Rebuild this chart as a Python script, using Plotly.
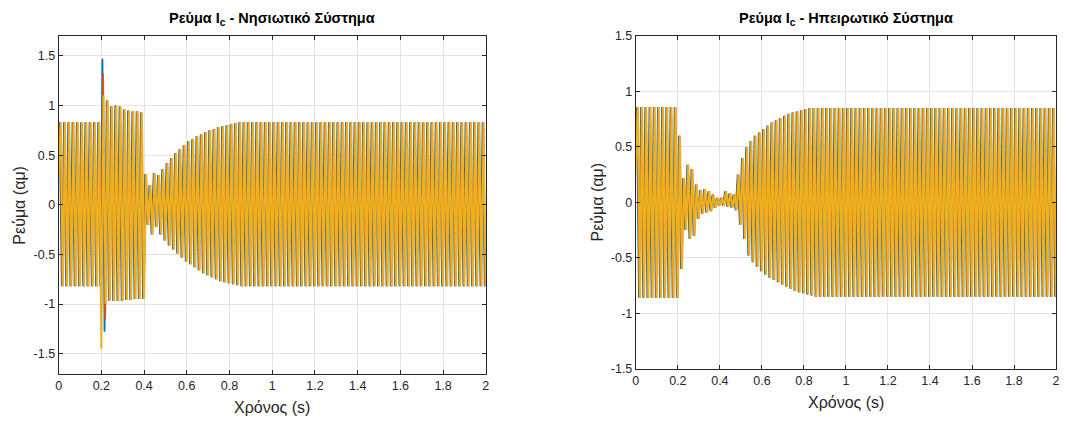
import plotly.graph_objects as go

# ---------------- data ----------------
# 50 Hz signals, 100 cycles over 0..2 s; per-cycle positive / negative peak values
cycle_start = [round(0.02 * k, 2) for k in range(100)]

# Left panel: "Νησιωτικό Σύστημα"
L_upper = [0.83] * 10 + [1.10, 1.05, 0.99, 1.00, 0.99, 0.96, 0.95, 0.94, 0.94, 0.93] + \
          [0.31, 0.20, 0.32, 0.30, 0.36, 0.42, 0.47, 0.52, 0.56, 0.60, 0.64,
           0.66, 0.69, 0.71, 0.73, 0.75, 0.76, 0.78, 0.79, 0.80, 0.81, 0.82] + [0.83] * 58
L_lower = [-0.82] * 10 + [-1.00, -0.97, -0.97, -0.97, -0.97, -0.96, -0.96, -0.95, -0.95, -0.95] + \
          [-0.20, -0.30, -0.22, -0.30, -0.36, -0.41, -0.45, -0.49, -0.53, -0.57, -0.60,
           -0.63, -0.66, -0.69, -0.71, -0.73, -0.75, -0.77, -0.78, -0.79, -0.80, -0.81] + [-0.82] * 58
# fault spike peaks per series (cycle index -> value)
L_spike_upper = [{10: 1.47}, {10: 1.32}, {}]
L_spike_lower = [{10: -1.28}, {10: -1.15}, {9: -1.45}]

# Right panel: "Ηπειρωτικό Σύστημα"
R_upper = [0.86] * 10 + [0.60, 0.22, 0.34, 0.30, 0.16, 0.11, 0.12, 0.10, 0.07, 0.04, 0.04,
                         0.10, 0.08, 0.07, 0.25, 0.40, 0.50, 0.55, 0.60, 0.63, 0.66, 0.69,
                         0.72, 0.74, 0.76, 0.78, 0.80, 0.81, 0.82, 0.83, 0.84, 0.85] + [0.85] * 58
R_lower = [-0.86] * 10 + [-0.60, -0.25, -0.33, -0.30, -0.15, -0.10, -0.09, -0.08, -0.05, -0.03, -0.03,
                          -0.04, -0.05, -0.07, -0.20, -0.33, -0.48, -0.54, -0.58, -0.62, -0.65, -0.68,
                          -0.70, -0.72, -0.74, -0.76, -0.78, -0.80, -0.81, -0.82, -0.83, -0.84] + [-0.85] * 58
R_spike_upper = [{}, {}, {}]
R_spike_lower = [{}, {}, {}]

series_offset = [0.0, 0.003, 0.005]       # time shift of each series (s)
series_start = [0.6, 0.45, 0.3]            # value at t = 0
series_colors = ["#0072BD", "#D95319", "#EDB120"]
series_widths = [1.8, 1.8, 2.0]

x_ticks = [0, 0.2, 0.4, 0.6, 0.8, 1, 1.2, 1.4, 1.6, 1.8, 2]
x_ticktext = ["0", "0.2", "0.4", "0.6", "0.8", "1", "1.2", "1.4", "1.6", "1.8", "2"]
y_ticks = [-1.5, -1, -0.5, 0, 0.5, 1, 1.5]
y_ticktext = ["-1.5", "-1", "-0.5", "0", "0.5", "1", "1.5"]

titles = ["Ρεύμα I<sub>c</sub> - Νησιωτικό Σύστημα", "Ρεύμα I<sub>c</sub> - Ηπειρωτικό Σύστημα"]
x_title = "Χρόνος (s)"
y_title = "Ρεύμα (αμ)"


def build(upper, lower, offset, start, up_over, lo_over):
    xs, ys = [0.0], [start]
    for k, t0 in enumerate(cycle_start):
        xs += [t0 + offset + 0.005, t0 + offset + 0.015]
        ys += [up_over.get(k, upper[k]), lo_over.get(k, lower[k])]
    return xs, ys


fig = go.Figure()
panels = [("x", "y", L_upper, L_lower, L_spike_upper, L_spike_lower),
          ("x2", "y2", R_upper, R_lower, R_spike_upper, R_spike_lower)]
for xa, ya, up, lo, su, sl in panels:
    for i in range(3):
        xs, ys = build(up, lo, series_offset[i], series_start[i], su[i], sl[i])
        fig.add_trace(go.Scatter(x=xs, y=ys, mode="lines", xaxis=xa, yaxis=ya,
                                 line=dict(color=series_colors[i], width=series_widths[i]),
                                 showlegend=False, hoverinfo="skip"))

W, H = 1067, 426
axis_font = dict(family="Liberation Sans, Arial, sans-serif", size=12.5, color="#262626")
common_x = dict(tickvals=x_ticks, ticktext=x_ticktext, showgrid=True,
                gridcolor="#e3e3e3", gridwidth=1, zeroline=False, showline=True,
                linecolor="#262626", linewidth=1, mirror="ticks", ticks="inside",
                ticklen=4, tickcolor="#262626", tickfont=axis_font,
                ticklabeloverflow="allow")
common_y = dict(tickvals=y_ticks, ticktext=y_ticktext, showgrid=True,
                gridcolor="#e3e3e3", gridwidth=1, zeroline=False, showline=True,
                linecolor="#262626", linewidth=1, mirror="ticks", ticks="inside",
                ticklen=4, tickcolor="#262626", tickfont=axis_font,
                ticklabeloverflow="allow")

L_box = (56, 486, 30, 379)
R_box = (637, 1060, 30, 374)

fig.update_layout(
    width=W, height=H, margin=dict(l=0, r=0, t=0, b=0),
    paper_bgcolor="white", plot_bgcolor="white",
    xaxis=dict(domain=[L_box[0] / W, L_box[1] / W], anchor="y", range=[0, 2], **common_x),
    yaxis=dict(domain=[1 - L_box[3] / H, 1 - L_box[2] / H], anchor="x", range=[-1.7, 1.7], **common_y),
    xaxis2=dict(domain=[R_box[0] / W, R_box[1] / W], anchor="y2", range=[0, 2], **common_x),
    yaxis2=dict(domain=[1 - R_box[3] / H, 1 - R_box[2] / H], anchor="x2", range=[-1.5, 1.5], **common_y),
)

title_font = dict(family="Liberation Sans, Arial, sans-serif", size=14.5, color="#000000")
label_font = dict(family="Liberation Sans, Arial, sans-serif", size=16, color="#262626")
for box, ttl in zip([L_box, R_box], titles):
    cx = (box[0] + box[1]) / 2
    fig.add_annotation(x=cx / W, y=1 - 12 / H, xref="paper", yref="paper", text="<b>" + ttl + "</b>",
                       showarrow=False, font=title_font, xanchor="center", yanchor="middle")
    fig.add_annotation(x=cx / W, y=1 - (box[3] + 35) / H, xref="paper", yref="paper", text=x_title,
                       showarrow=False, font=label_font, xanchor="center", yanchor="middle")
    fig.add_annotation(x=(box[0] - 39) / W, y=1 - ((box[2] + box[3]) / 2) / H, xref="paper", yref="paper",
                       text=y_title, textangle=-90, showarrow=False, font=label_font,
                       xanchor="center", yanchor="middle")

fig.write_html("out.html", config={"displayModeBar": False},
               post_script="document.body.style.margin='0';document.body.style.padding='0';"
                           "document.body.style.overflow='hidden';")
